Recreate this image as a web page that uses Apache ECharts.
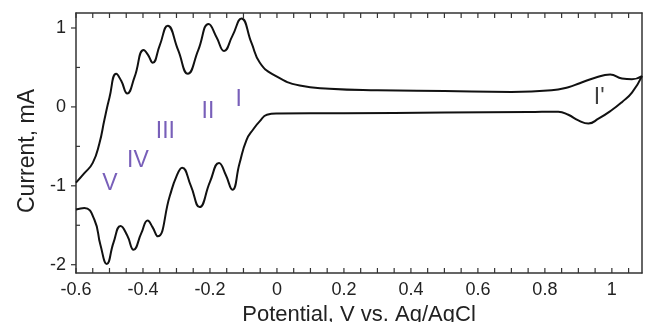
<!DOCTYPE html>
<html>
<head>
<meta charset="utf-8">
<script src="https://cdn.jsdelivr.net/npm/echarts@6/dist/echarts.min.js"></script>
<style>
  html, body { margin: 0; padding: 0; background: #fff; }
  #container { width: 645px; height: 322px; }
</style>
</head>
<body>
<div id="container"></div>
<script>
// anodic sweep, left to right (V, mA)
var anodic = [
    [-0.6, -0.96], [-0.575, -0.84], [-0.55, -0.71], [-0.53, -0.46], [-0.515, -0.16],
    [-0.5, 0.12], [-0.48, 0.42], [-0.465, 0.33], [-0.447, 0.17], [-0.425, 0.38],
    [-0.398, 0.72], [-0.385, 0.66], [-0.371, 0.56], [-0.35, 0.78], [-0.326, 1.03],
    [-0.295, 0.72], [-0.266, 0.42], [-0.235, 0.72], [-0.204, 1.05], [-0.18, 0.88],
    [-0.158, 0.71], [-0.133, 0.90], [-0.106, 1.12], [-0.076, 0.81], [-0.051, 0.56],
    [-0.011, 0.41], [0.068, 0.27], [0.157, 0.23], [0.3, 0.21], [0.5, 0.20],
    [0.7, 0.19], [0.82, 0.21], [0.87, 0.25], [0.904, 0.30], [0.95, 0.37],
    [0.995, 0.41], [1.03, 0.36], [1.06, 0.35], [1.09, 0.39]
];
// cathodic sweep, right to left
var cathodic = [
    [1.06, 0.18], [1.03, 0.06], [1.0, -0.04], [0.96, -0.15], [0.93, -0.21],
    [0.9, -0.17], [0.87, -0.10], [0.84, -0.06], [0.75, -0.065], [0.5, -0.072],
    [0.2, -0.08], [0.0, -0.085], [-0.03, -0.1], [-0.051, -0.18], [-0.07, -0.28],
    [-0.091, -0.42], [-0.112, -0.72], [-0.133, -1.05], [-0.153, -0.86], [-0.173, -0.71],
    [-0.2, -0.95], [-0.231, -1.27], [-0.257, -1.0], [-0.283, -0.77], [-0.3, -0.88],
    [-0.32, -1.13], [-0.356, -1.64], [-0.372, -1.52], [-0.386, -1.44], [-0.405, -1.60],
    [-0.428, -1.81], [-0.447, -1.63], [-0.467, -1.51], [-0.488, -1.72], [-0.508, -1.99],
    [-0.527, -1.75], [-0.545, -1.43], [-0.575, -1.28], [-0.6, -1.30]
];
// peak labels
var peakNames = ['V', 'IV', 'III', 'II', 'I'];
var peakPos = [[-0.499, -0.97], [-0.415, -0.68], [-0.333, -0.32], [-0.206, -0.06], [-0.114, 0.09]];
var primeName = ["I'"];
var primePos = [[0.962, 0.12]];

var xLabels = [-0.6, -0.4, -0.2, 0, 0.2, 0.4, 0.6, 0.8, 1];
var xTicks = [-0.6, -0.55, -0.5, -0.45, -0.4, -0.35, -0.3, -0.25, -0.2, -0.15, -0.1, -0.05,
    0, 0.05, 0.1, 0.15, 0.2, 0.25, 0.3, 0.35, 0.4, 0.45, 0.5, 0.55, 0.6, 0.65, 0.7, 0.75,
    0.8, 0.85, 0.9, 0.95, 1, 1.05];
var yLabels = [-2, -1, 0, 1];
var yMinor = [-1.5, -0.5, 0.5];

var dom = document.getElementById("container");
var myChart = echarts.init(dom);

var font = 'Liberation Sans, Arial, sans-serif';
var X_MIN = -0.6, X_MAX = 1.09, Y_MIN = -2.105, Y_MAX = 1.19;
var TICK = { stroke: '#333', lineWidth: 1.2 };

function seg(x1, y1, x2, y2) {
    return { type: 'line', shape: { x1: x1, y1: y1, x2: x2, y2: y2 }, style: TICK };
}

// tick marks drawn through the axes' scales
function renderXTick(params, api) {
    var b = api.coord([api.value(0), Y_MIN]);
    var t = api.coord([api.value(0), Y_MAX]);
    return { type: 'group', children: [seg(b[0], b[1], b[0], b[1] - 5), seg(t[0], t[1], t[0], t[1] + 5)] };
}
function renderYMajor(params, api) {
    var p = api.coord([X_MIN, api.value(1)]);
    return seg(p[0] - 5, p[1], p[0], p[1]);
}
function renderYMinor(params, api) {
    var p = api.coord([X_MIN, api.value(1)]);
    return seg(p[0], p[1], p[0] + 4, p[1]);
}

var frameLine = function () {
    return { show: true, onZero: false, lineStyle: { color: '#333', width: 1.5 } };
};

var option = {
    animation: false,
    grid: { left: 76, right: 3, top: 13, bottom: 49, outerBoundsMode: 'none', containLabel: false },
    xAxis: [
        {
            type: 'value', position: 'bottom', min: X_MIN, max: X_MAX,
            name: 'Potential, V vs. Ag/AgCl', nameLocation: 'middle', nameGap: 27,
            nameTextStyle: { fontFamily: font, fontSize: 22, color: '#222' },
            axisLine: frameLine(),
            axisTick: { show: false },
            axisLabel: { show: true, customValues: xLabels, margin: 8, fontFamily: font, fontSize: 18, color: '#222' },
            splitLine: { show: false }
        },
        {
            type: 'value', position: 'top', min: X_MIN, max: X_MAX,
            axisLine: frameLine(),
            axisTick: { show: false },
            axisLabel: { show: false },
            splitLine: { show: false }
        }
    ],
    yAxis: [
        {
            type: 'value', position: 'left', min: Y_MIN, max: Y_MAX,
            name: 'Current, mA', nameLocation: 'middle', nameGap: 37,
            nameTextStyle: { fontFamily: font, fontSize: 23, color: '#222', padding: [0, 16, 0, 0] },
            axisLine: frameLine(),
            axisTick: { show: false },
            axisLabel: { show: true, customValues: yLabels, margin: 10, fontFamily: font, fontSize: 18, color: '#222' },
            splitLine: { show: false }
        },
        {
            type: 'value', position: 'right', min: Y_MIN, max: Y_MAX,
            axisLine: frameLine(),
            axisTick: { show: false },
            axisLabel: { show: false },
            splitLine: { show: false }
        }
    ],
    series: [
        {
            name: 'CV',
            type: 'line',
            data: anodic.concat(cathodic),
            smooth: 0.5,
            showSymbol: false,
            clip: true,
            lineStyle: { color: '#111', width: 2 }
        },
        {
            type: 'scatter',
            symbolSize: 0,
            data: peakNames.map(function (n, i) { return { name: n, value: peakPos[i] }; }),
            label: { show: true, position: 'inside', formatter: '{b}',
                fontFamily: font, fontSize: 23, color: '#5637a8' }
        },
        {
            type: 'scatter',
            symbolSize: 0,
            data: primeName.map(function (n, i) { return { name: n, value: primePos[i] }; }),
            label: { show: true, position: 'inside', formatter: '{b}',
                fontFamily: font, fontSize: 23, color: '#111' }
        },
        {
            type: 'custom', silent: true, clip: false, z: 5,
            renderItem: renderXTick,
            data: xTicks.map(function (v) { return [v, Y_MIN]; })
        },
        {
            type: 'custom', silent: true, clip: false, z: 5,
            renderItem: renderYMajor,
            data: yLabels.map(function (v) { return [X_MIN, v]; })
        },
        {
            type: 'custom', silent: true, clip: false, z: 5,
            renderItem: renderYMinor,
            data: yMinor.map(function (v) { return [X_MIN, v]; })
        }
    ]
};

myChart.setOption(option, true);
window.onresize = function () {
    myChart.resize();
};
</script>
</body>
</html>
